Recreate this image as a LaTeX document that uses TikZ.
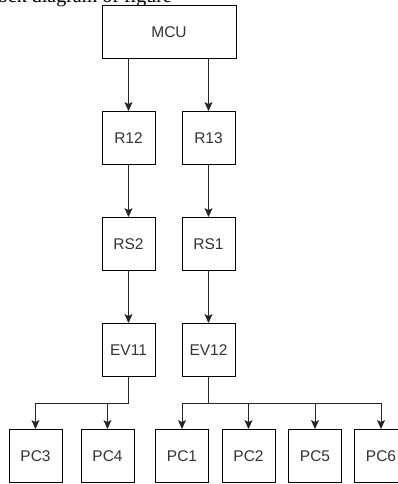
\documentclass[tikz,border=0pt]{standalone}
\usepackage{fontspec}
\setmainfont{Liberation Sans}
\newfontfamily\capserif{Liberation Serif}
\usetikzlibrary{arrows.meta}
\definecolor{txt}{HTML}{333333}
\tikzset{
  blk/.style={draw=black, line width=0.9pt, fill=white, minimum width=53pt, minimum height=53pt, inner sep=0pt, text=txt, font=\fontsize{15.5}{18}\selectfont},
  conn/.style={draw=black!85, line width=0.9pt, -{Stealth[length=9pt,width=8pt,inset=2pt]}},
  wire/.style={draw=black!85, line width=0.9pt}
}
\begin{document}
\begin{tikzpicture}[x=1pt,y=-1pt]
\useasboundingbox (0,0) rectangle (398,484);
\clip (0,0) rectangle (398,484);
\node[anchor=base east, font=\capserif\fontsize{20}{24}\selectfont, inner sep=0pt] (cap) at (172,3) {Block diagram of figure};
\node[blk, minimum width=134pt] (MCU) at (169,32) {MCU};
\node[blk] (R12) at (128.5,138) {R12};
\node[blk] (R13) at (208.5,138) {R13};
\node[blk] (RS2) at (128.5,244) {RS2};
\node[blk] (RS1) at (208.5,244) {RS1};
\node[blk] (EV11) at (128.5,350) {EV11};
\node[blk] (EV12) at (208.5,350) {EV12};
\node[blk] (PC3) at (35.5,456) {PC3};
\node[blk] (PC4) at (107.5,456) {PC4};
\node[blk] (PC1) at (182,456) {PC1};
\node[blk] (PC2) at (248.5,456) {PC2};
\node[blk] (PC5) at (315,456) {PC5};
\node[blk] (PC6) at (381,456) {PC6};
\coordinate (busL) at (128.5,403);
\coordinate (busR) at (208.5,403);
\draw[conn] (R12 |- MCU.south) -- (R12.north);
\draw[conn] (R13 |- MCU.south) -- (R13.north);
\draw[conn] (R12) -- (RS2);
\draw[conn] (R13) -- (RS1);
\draw[conn] (RS2) -- (EV11);
\draw[conn] (RS1) -- (EV12);
\draw[wire] (EV11.south) -- (busL);
\draw[wire] (EV12.south) -- (busR);
\draw[conn] (busL) -| (PC3.north);
\draw[conn] (busL) -| (PC4.north);
\draw[conn] (busR) -| (PC1.north);
\draw[conn] (busR) -| (PC2.north);
\draw[conn] (busR) -| (PC5.north);
\draw[conn] (busR) -| (PC6.north);
\end{tikzpicture}
\end{document}
